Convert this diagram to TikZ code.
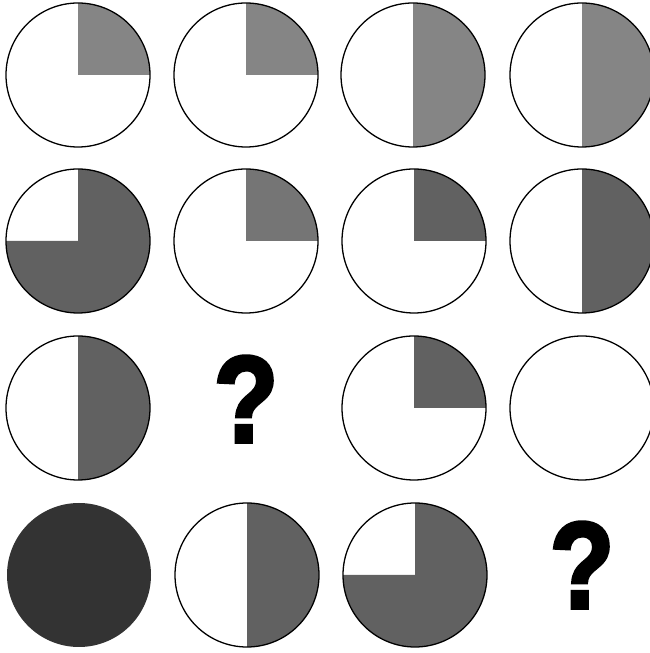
\documentclass[tikz,border=0pt]{standalone}
\usepackage{fontspec}
\newfontfamily\qfont[BoldFeatures={FakeBold=3}]{Liberation Sans}
\tikzset{
  rim/.style={draw=black,line width=1.3pt},
  lightfill/.style={fill=black!48},
  midfill/.style={fill=black!54},
  darkfill/.style={fill=black!62},
  fullfill/.style={fill=black!80},
  qmark/.style={font=\qfont\bfseries\fontsize{123}{123}\selectfont,inner sep=0pt,anchor=base}
}
\newcommand{\narrowq}{\scalebox{0.86}[1]{?}}
\begin{document}
\begin{tikzpicture}[x=1pt,y=1pt]
\useasboundingbox[fill=white] (0,0) rectangle (650,653);
% centres of the grid
\coordinate (a1) at (78,578);
\coordinate (a2) at (246,578);
\coordinate (a3) at (413,578);
\coordinate (a4) at (582,578);
\coordinate (b1) at (78,412);
\coordinate (b2) at (246,412);
\coordinate (b3) at (414,412);
\coordinate (b4) at (582,412);
\coordinate (c1) at (78,245);
\coordinate (c2) at (246,245);
\coordinate (c3) at (414,245);
\coordinate (c4) at (582,245);
\coordinate (d1) at (79,78);
\coordinate (d2) at (247,78);
\coordinate (d3) at (415,78);
\coordinate (d4) at (582,78);
% first row
\fill[lightfill](a1)--++(0,72) arc[start angle=90,end angle=0,radius=72]--cycle;
\draw[rim](a1) circle (72);
\fill[lightfill](a2)--++(0,72) arc[start angle=90,end angle=0,radius=72]--cycle;
\draw[rim](a2) circle (72);
\fill[lightfill](a3)++(0,72) arc[start angle=90,end angle=-90,radius=72]--cycle;
\draw[rim](a3) circle (72);
\fill[lightfill](a4)++(0,72) arc[start angle=90,end angle=-90,radius=72]--cycle;
\draw[rim](a4) circle (72);
% second row
\fill[darkfill](b1)--++(0,72) arc[start angle=90,end angle=-180,radius=72]--cycle;
\draw[rim](b1) circle (72);
\fill[midfill](b2)--++(0,72) arc[start angle=90,end angle=0,radius=72]--cycle;
\draw[rim](b2) circle (72);
\fill[darkfill](b3)--++(0,72) arc[start angle=90,end angle=0,radius=72]--cycle;
\draw[rim](b3) circle (72);
\fill[darkfill](b4)++(0,72) arc[start angle=90,end angle=-90,radius=72]--cycle;
\draw[rim](b4) circle (72);
% third row
\fill[darkfill](c1)++(0,72) arc[start angle=90,end angle=-90,radius=72]--cycle;
\draw[rim](c1) circle (72);
\node[qmark] (q1) at ([yshift=-34pt]c2) {\narrowq};
\fill[darkfill](c3)--++(0,72) arc[start angle=90,end angle=0,radius=72]--cycle;
\draw[rim](c3) circle (72);
\draw[rim](c4) circle (72);
% fourth row
\fill[fullfill](d1) circle (72);
\fill[darkfill](d2)++(0,72) arc[start angle=90,end angle=-90,radius=72]--cycle;
\draw[rim](d2) circle (72);
\fill[darkfill](d3)--++(0,72) arc[start angle=90,end angle=-180,radius=72]--cycle;
\draw[rim](d3) circle (72);
\node[qmark] (q2) at ([yshift=-33pt]d4) {\narrowq};
\end{tikzpicture}
\end{document}
